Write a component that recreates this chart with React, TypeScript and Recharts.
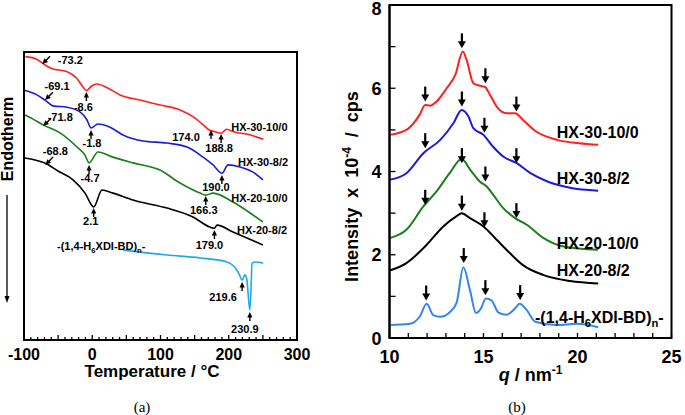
import React from 'react';
import { LineChart, Line, XAxis, YAxis, ReferenceDot, ReferenceArea, Label } from 'recharts';

const FONT = '"Liberation Sans", Arial, Helvetica, sans-serif';

// ---------- Panel (a): DSC (temperature °C, heat flow a.u.) ----------
const dscHX30_10_0 = [[-98, 98.4], [-81.5, 97.5], [-69.2, 95.5], [-59.5, 94.3], [-37.5, 93.2], [-22.8, 90.9], [-13, 87.7], [-8.6, 86.6], [-0.8, 88.2], [6.5, 88.9], [21.2, 87.7], [40.7, 85.1], [70, 83.3], [99.3, 81.6], [128.6, 79.9], [148, 77.5], [162.7, 74.7], [171.5, 72.9], [179.9, 72.3], [188.8, 71.8], [197, 73.2], [206.7, 72.3], [226.3, 71.5], [250.6, 69.7]];
const dscHX30_8_2 = [[-98.5, 86.6], [-81, 85.1], [-69.2, 83.3], [-57.5, 81.3], [-37, 80.8], [-18, 79.2], [-7.7, 76.4], [-1.8, 73.6], [8.4, 75], [26, 73.9], [45, 71.2], [74.4, 69.1], [109.5, 68.4], [139, 67], [162.3, 63.5], [177, 60.8], [190, 57.9], [199, 60.8], [216.5, 60.1], [235.5, 58.3], [250, 55.6]];
const dscHX20_10_0 = [[-98.5, 78.1], [-86.8, 76.7], [-72, 74.7], [-47.3, 71.9], [-22.3, 67], [-10.6, 64.2], [-4.7, 61.5], [8.4, 65.3], [30.4, 63.5], [59.7, 61.5], [99.3, 59], [128.6, 54.5], [158, 51], [166.3, 50.3], [177, 51], [206.2, 47.9], [235.5, 43.4], [250, 41]];
const dscHX20_8_2 = [[-98.5, 63.2], [-66.3, 61.1], [-50.2, 58.7], [-28.2, 55.6], [-10.6, 51], [2.1, 46.2], [14.3, 52.1], [30.4, 51], [59.7, 48.6], [109.5, 45.8], [147.6, 42.7], [172.5, 39.2], [179, 38.8], [182.8, 39.9], [206.2, 37.5], [250, 33]];
const dscPoly = [[45, 31.2], [109.5, 29.5], [158, 28.5], [197.4, 27.1], [209, 25.3], [215, 23], [219.6, 20.8], [223.7, 22.6], [226.5, 21], [230.9, 10.4], [233, 20], [234, 26.7], [240, 27.1], [250, 26.7]];

const dscMarks = [
  { t: -73.2, v: 95.8, label: '-73.2', kind: 'diag' },
  { t: -69.1, v: 83.3, label: '-69.1', kind: 'diag' },
  { t: -71.8, v: 74.3, label: '-71.8', kind: 'diag' },
  { t: -68.8, v: 60.8, label: '-68.8', kind: 'diag' },
  { t: -8.6, v: 86.1, label: '-8.6', kind: 'up' },
  { t: -1.8, v: 72.9, label: '-1.8', kind: 'up' },
  { t: -4.7, v: 60.8, label: '-4.7', kind: 'up' },
  { t: 2.1, v: 45.8, label: '2.1', kind: 'up' },
  { t: 174.0, v: 72.9, label: '174.0', kind: 'up' },
  { t: 188.8, v: 71.5, label: '188.8', kind: 'up' },
  { t: 190.0, v: 57.3, label: '190.0', kind: 'up' },
  { t: 166.3, v: 50.0, label: '166.3', kind: 'up' },
  { t: 179.0, v: 38.2, label: '179.0', kind: 'up' },
  { t: 219.6, v: 20.1, label: '219.6', kind: 'up' },
  { t: 230.9, v: 9.7, label: '230.9', kind: 'up' },
];
// label offsets (px) relative to arrow tips, same order as dscMarks
const dscLabelOffsets = [[28, -4], [12, -14], [17, -9], [10, -14], [-3, 15], [1, 13], [1, 13], [-3, 13], [-25, 7], [-2, 14], [-6, 12], [-2, 14], [-5, 15], [-19, 15], [-5, 17]];

const dscNames = [
  { t: 203.7, v: 74, name: 'HX-30-10/0' },
  { t: 213.5, v: 61.8, name: 'HX-30-8/2' },
  { t: 203.7, v: 49.3, name: 'HX-20-10/0' },
  { t: 212, v: 38.2, name: 'HX-20-8/2' },
  { t: -51.6, v: 32.6, name: 'poly' },
];

const tempTickLabels = [-100, 0, 100, 200, 300];
const tempTicks = Array.from({ length: 41 }, (_, i) => -100 + i * 10);

// ---------- Panel (b): WAXD (q nm^-1, intensity x10^-4 cps) ----------
const xrdHX30_10_0 = [[10, 4.88], [10.9, 5.0], [11.6, 5.36], [11.9, 5.6], [12.15, 5.58], [12.5, 5.68], [13.04, 6.0], [13.5, 6.32], [13.9, 6.88], [14.1, 6.68], [14.46, 6.12], [14.8, 6.06], [15.08, 6.03], [15.35, 5.84], [15.7, 5.56], [16.23, 5.4], [16.68, 5.4], [17.1, 5.24], [17.8, 4.96], [18.9, 4.76], [20.1, 4.68], [21.1, 4.64]];
const xrdHX30_8_2 = [[10, 3.8], [10.9, 3.96], [11.8, 4.44], [12.7, 4.76], [13.4, 5.16], [13.84, 5.48], [14.2, 5.32], [14.46, 5.04], [15.0, 4.88], [15.5, 4.6], [16.05, 4.36], [16.77, 4.2], [17.5, 3.96], [18.4, 3.76], [19.6, 3.61], [21.1, 3.54]];
const xrdHX20_10_0 = [[10, 2.4], [10.9, 2.6], [11.8, 3.16], [12.5, 3.52], [13.2, 3.96], [13.84, 4.3], [14.3, 4.04], [14.8, 3.76], [15.17, 3.64], [15.5, 3.45], [16.05, 3.12], [16.68, 2.88], [17.3, 2.72], [18.2, 2.4], [19.25, 2.2], [21.1, 2.12]];
const xrdHX20_8_2 = [[10, 1.62], [10.9, 1.8], [11.98, 2.24], [12.86, 2.68], [13.57, 2.93], [13.84, 3.0], [14.28, 2.88], [15.0, 2.68], [15.7, 2.36], [16.4, 2.04], [17.1, 1.75], [18.2, 1.51], [19.6, 1.37], [21.1, 1.31]];
const xrdPoly = [[10, 0.31], [11.1, 0.34], [11.6, 0.51], [11.98, 0.82], [12.33, 0.55], [12.7, 0.51], [13.2, 0.62], [13.57, 0.85], [13.93, 1.7], [14.28, 1.15], [14.6, 0.6], [14.85, 0.7], [15.13, 0.95], [15.43, 0.9], [15.8, 0.61], [16.23, 0.56], [16.68, 0.71], [16.92, 0.82], [17.3, 0.67], [17.75, 0.39], [18.9, 0.31], [19.95, 0.34], [21.1, 0.26]];

const xrdArrows = [
  [11.9, 5.68], [13.85, 6.96], [15.1, 6.12], [16.75, 5.44],
  [11.9, 4.56], [13.85, 5.56], [15.05, 4.93], [16.75, 4.2],
  [11.9, 3.2], [13.85, 4.2], [15.1, 3.76], [16.75, 2.88],
  [13.85, 3.06], [15.05, 2.66],
  [11.95, 0.9], [13.95, 1.8], [15.1, 1.03], [16.95, 0.91],
];
const xrdNames = [
  { q: 18.9, v: 4.94, name: 'HX-30-10/0' },
  { q: 18.9, v: 3.84, name: 'HX-30-8/2' },
  { q: 18.9, v: 2.28, name: 'HX-20-10/0' },
  { q: 18.9, v: 1.63, name: 'HX-20-8/2' },
  { q: 17.74, v: 0.51, name: 'poly' },
];
const qTickLabels = [10, 15, 20, 25];
const qTicks = Array.from({ length: 16 }, (_, i) => 10 + i);
const iTickLabels = [0, 2, 4, 6, 8];
const iTicks = [0, 1, 2, 3, 4, 5, 6, 7, 8];

const RED = '#ff1f1f';
const BLUE = '#1c1cd8';
const GREEN = '#1b7d1b';
const BLACK = '#000000';
const CYAN = '#1fa8e8';
const SKY = '#3585f0';

const pts = (a: number[][]) => a.map(([x, v]) => ({ x, v }));

const axisLine = { stroke: '#000', strokeWidth: 2 };

function PolyName({ x, y, size, anchor = 'start' }: any) {
  return (
    <text x={x} y={y} fontSize={size} fontWeight="bold" fontFamily={FONT} fill="#000" textAnchor={anchor}>
      -(1,4-H<tspan fontSize={size * 0.7} dy={size * 0.25}>6</tspan>
      <tspan dy={-size * 0.25}>XDI-BD)</tspan>
      <tspan fontSize={size * 0.7} dy={size * 0.25}>n</tspan>
      <tspan dy={-size * 0.25}>-</tspan>
    </text>
  );
}

function TempTick(props: any) {
  const { x, y, payload } = props;
  const val = payload.value;
  const len = val % 50 === 0 ? 5 : 3;
  return (
    <g>
      <line x1={x} x2={x} y1={y} y2={y - len} stroke="#000" strokeWidth={1.3} />
      {tempTickLabels.includes(val) && (
        <text x={x} y={y + 20} textAnchor="middle" fontSize={16} fontWeight="bold" fontFamily={FONT} fill="#000">{val}</text>
      )}
    </g>
  );
}

function QTick(props: any) {
  const { x, y, payload } = props;
  const val = payload.value;
  return (
    <g>
      <line x1={x} x2={x} y1={y} y2={y - 5} stroke="#000" strokeWidth={1.3} />
      {qTickLabels.includes(val) && (
        <text x={x} y={y + 25} textAnchor="middle" fontSize={18} fontWeight="bold" fontFamily={FONT} fill="#000">{val}</text>
      )}
    </g>
  );
}

function ITick(props: any) {
  const { x, y, payload } = props;
  const val = payload.value;
  return (
    <g>
      <line x1={x} x2={x + 6} y1={y} y2={y} stroke="#000" strokeWidth={1.3} />
      {iTickLabels.includes(val) && (
        <text x={x - 8} y={Math.max(y + 6.5, 15)} textAnchor="end" fontSize={18} fontWeight="bold" fontFamily={FONT} fill="#000">{val}</text>
      )}
    </g>
  );
}

function dscMarkShape(i: number) {
  const m = dscMarks[i];
  const [dx, dy] = dscLabelOffsets[i];
  return (p: any) => {
    const { cx, cy } = p;
    const rot = m.kind === 'diag' ? -135 : 0;
    return (
      <g>
        <g transform={`translate(${cx},${cy}) rotate(${rot})`}>
          <polygon points="0,0 -2.6,5.5 2.6,5.5" fill="#000" />
          <line x1={0} y1={4} x2={0} y2={m.kind === 'diag' ? 11 : 9} stroke="#000" strokeWidth={1.4} />
        </g>
        <text x={cx + dx} y={cy + dy + 4} textAnchor="middle" fontSize={11} fontWeight="bold" fontFamily={FONT} fill="#000">{m.label}</text>
      </g>
    );
  };
}

const downArrow = (p: any) => {
  const { cx, cy } = p;
  return (
    <g>
      <line x1={cx} y1={cy - 15} x2={cx} y2={cy - 6} stroke="#000" strokeWidth={2.2} />
      <polygon points={`${cx - 4},${cy - 7} ${cx + 4},${cy - 7} ${cx},${cy}`} fill="#000" />
    </g>
  );
};

function nameShape(name: string, size: number) {
  return (p: any) => {
    const { cx, cy } = p;
    if (name === 'poly') return <PolyName x={cx} y={cy + size * 0.36} size={size} />;
    return (
      <text x={cx} y={cy + size * 0.36} fontSize={size} fontWeight="bold" fontFamily={FONT} fill="#000">{name}</text>
    );
  };
}

export default function App() {
  const dscSeries: [number[][], string][] = [
    [dscHX30_10_0, RED], [dscHX30_8_2, BLUE], [dscHX20_10_0, GREEN], [dscHX20_8_2, BLACK], [dscPoly, CYAN],
  ];
  const xrdSeries: [number[][], string][] = [
    [xrdHX30_10_0, RED], [xrdHX30_8_2, BLUE], [xrdHX20_10_0, GREEN], [xrdHX20_8_2, BLACK], [xrdPoly, SKY],
  ];
  return (
    <div style={{ position: 'absolute', left: 0, top: 0, width: 685, height: 415, background: '#fff' }}>
      <div style={{ position: 'absolute', left: 0, top: 0 }}>
        <LineChart width={325} height={415} margin={{ top: 52, right: 28, bottom: 45, left: 23 }}>
          <XAxis dataKey="x" type="number" domain={[-100, 300]} ticks={tempTicks} interval={0} tick={<TempTick />}
            tickLine={false} tickSize={0} tickMargin={0} axisLine={axisLine} height={30} allowDataOverflow>
            <Label content={(p: any) => {
              const vb = p.viewBox;
              return (
                <text x={vb.x + 128} y={vb.y + 37} textAnchor="middle" fontSize={17} fontWeight="bold" fontFamily={FONT} fill="#000">
                  Temperature / °C
                </text>
              );
            }} />
          </XAxis>
          <YAxis type="number" domain={[0, 100]} tick={false} tickLine={false} width={1} axisLine={axisLine} allowDataOverflow>
            <Label content={(p: any) => {
              const vb = p.viewBox;
              return (
                <g>
                  <text transform={`translate(${vb.x - 10},${vb.y + 87}) rotate(-90)`} textAnchor="middle" fontSize={16} fontWeight="bold" fontFamily={FONT} fill="#000">Endotherm</text>
                  <line x1={vb.x - 16} x2={vb.x - 16} y1={vb.y + 143} y2={vb.y + 246} stroke="#000" strokeWidth={1.3} />
                  <polygon points={`${vb.x - 18.5},${vb.y + 244} ${vb.x - 13.5},${vb.y + 244} ${vb.x - 16},${vb.y + 251}`} fill="#000" />
                </g>
              );
            }} />
          </YAxis>
          <ReferenceArea x1={-100} x2={300} y1={0} y2={100} fill="none" stroke="#000" strokeWidth={2} ifOverflow="visible" />
          {dscSeries.map(([d, c], i) => (
            <Line key={'d' + i} data={pts(d)} dataKey="v" type="monotone" stroke={c} strokeWidth={1.6} dot={false} isAnimationActive={false} />
          ))}
          {dscMarks.map((m, i) => (
            <ReferenceDot key={'m' + i} x={m.t} y={m.v} r={1} ifOverflow="visible" shape={dscMarkShape(i)} />
          ))}
          {dscNames.map((n, i) => (
            <ReferenceDot key={'n' + i} x={n.t} y={n.v} r={1} ifOverflow="visible" shape={nameShape(n.name, 11)} />
          ))}
        </LineChart>
      </div>
      <div style={{ position: 'absolute', left: 325, top: 0 }}>
        <LineChart width={360} height={415} margin={{ top: 5, right: 13.5, bottom: 47, left: 34.5 }}>
          <XAxis dataKey="x" type="number" domain={[10, 25]} ticks={qTicks} interval={0} tick={<QTick />}
            tickLine={false} tickSize={0} tickMargin={0} axisLine={axisLine} height={30} allowDataOverflow>
            <Label content={(p: any) => {
              const vb = p.viewBox;
              return (
                <text x={vb.x + vb.width / 2} y={vb.y + 43} textAnchor="middle" fontSize={18} fontWeight="bold" fontFamily={FONT} fill="#000">
                  <tspan fontStyle="italic">q</tspan> / nm<tspan fontSize={12} dy={-7}>-1</tspan>
                </text>
              );
            }} />
          </XAxis>
          <YAxis type="number" domain={[0, 8]} ticks={iTicks} interval={0} tick={<ITick />} tickLine={false} tickSize={0} tickMargin={0}
            width={30} axisLine={axisLine} allowDataOverflow>
            <Label content={(p: any) => {
              const vb = p.viewBox;
              return (
                <text transform={`translate(${vb.x - 2},${vb.y + vb.height / 2 + 15}) rotate(-90)`} textAnchor="middle" fontSize={18} fontWeight="bold" fontFamily={FONT} fill="#000" style={{ whiteSpace: 'pre' }}>
                  {'Intensity  x  10'}<tspan fontSize={12} dy={-7}>-4</tspan><tspan dy={7}>{'  /  cps'}</tspan>
                </text>
              );
            }} />
          </YAxis>
          <ReferenceArea x1={10} x2={25} y1={0} y2={8} fill="none" stroke="#000" strokeWidth={2} ifOverflow="visible" />
          {xrdSeries.map(([d, c], i) => (
            <Line key={'x' + i} data={pts(d)} dataKey="v" type="monotone" stroke={c} strokeWidth={2} dot={false} isAnimationActive={false} />
          ))}
          {xrdArrows.map(([q, v], i) => (
            <ReferenceDot key={'a' + i} x={q} y={v} r={1} ifOverflow="visible" shape={downArrow} />
          ))}
          {xrdNames.map((n, i) => (
            <ReferenceDot key={'xn' + i} x={n.q} y={n.v} r={1} ifOverflow="visible" shape={nameShape(n.name, 16)} />
          ))}
        </LineChart>
      </div>
      <svg width={685} height={415} style={{ position: 'absolute', left: 0, top: 0, pointerEvents: 'none' }}>
        <text x={142} y={412} textAnchor="middle" fontSize={15} fontFamily='"Liberation Serif", "Times New Roman", serif' fill="#000">(a)</text>
        <text x={517} y={412} textAnchor="middle" fontSize={15} fontFamily='"Liberation Serif", "Times New Roman", serif' fill="#000">(b)</text>
      </svg>
    </div>
  );
}
